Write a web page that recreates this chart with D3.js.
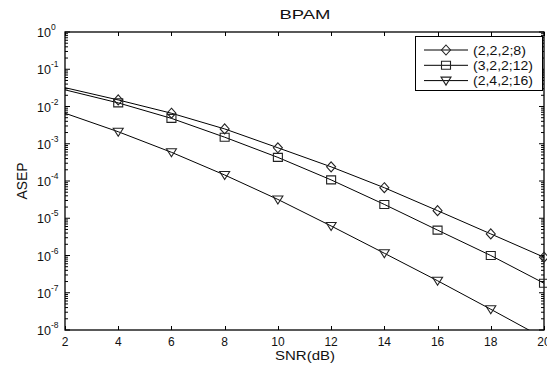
<!DOCTYPE html>
<html>
<head>
<meta charset="utf-8">
<script src="https://cdn.jsdelivr.net/npm/d3@7"></script>
<style>
  body { margin: 0; background: #fff; }
  svg { display: block; font-family: "Liberation Sans", Arial, sans-serif; }
</style>
</head>
<body>
<svg id="chart" width="547" height="365"></svg>
<script>
// SNR values (dB)
const snr = [2, 4, 6, 8, 10, 12, 14, 16, 18, 20];
// ASEP
const sepA = [3.2e-2, 1.5e-2, 6.6e-3, 2.5e-3, 7.8e-4, 2.4e-4, 6.6e-5, 1.6e-5, 3.8e-6, 9.0e-7];
const sepB = [2.8e-2, 1.25e-2, 4.8e-3, 1.5e-3, 4.3e-4, 1.07e-4, 2.35e-5, 4.8e-6, 1.0e-6, 1.8e-7];
const sepC = [6.6e-3, 2.1e-3, 5.9e-4, 1.45e-4, 3.2e-5, 6.2e-6, 1.15e-6, 2.1e-7, 3.6e-8, 6.0e-9];
const seriesNames = ["(2,2,2;8)", "(3,2,2;12)", "(2,4,2;16)"];
const markerTypes = ["diamond", "square", "triangle"];
const xTicks = [2, 4, 6, 8, 10, 12, 14, 16, 18, 20];
const yExps = [0, -1, -2, -3, -4, -5, -6, -7, -8];

const series = [sepA, sepB, sepC].map((v, i) => ({
  name: seriesNames[i], marker: markerTypes[i],
  values: snr.map((s, j) => ({ x: s, y: v[j] }))
}));

const svg = d3.select("#chart");
const pLeft = 65, pRight = 544, pTop = 32, pBottom = 330;

const x = d3.scaleLinear().domain([2, 20]).range([pLeft, pRight]);
const y = d3.scaleLog().domain([1e-8, 1]).range([pBottom, pTop]);

svg.append("defs").append("clipPath").attr("id", "clip")
  .append("rect").attr("x", pLeft).attr("y", pTop)
  .attr("width", pRight - pLeft).attr("height", pBottom - pTop);

// stretched text helper (the picture's text is wider than normal glyphs)
function label(g, txt, px, py, size, width, anchor) {
  return g.append("text")
    .attr("x", px).attr("y", py)
    .attr("font-size", size)
    .attr("text-anchor", anchor || "start")
    .attr("textLength", width)
    .attr("lengthAdjust", "spacingAndGlyphs")
    .attr("fill", "#111")
    .text(txt);
}

// axes box
svg.append("rect")
  .attr("x", pLeft).attr("y", pTop)
  .attr("width", pRight - pLeft).attr("height", pBottom - pTop)
  .attr("fill", "none").attr("stroke", "#000").attr("stroke-width", 1.3);

// x ticks, inward on bottom and top
const axis = svg.append("g").attr("stroke", "#000").attr("stroke-width", 1);
xTicks.forEach(t => {
  const px = Math.round(x(t)) + 0.5;
  axis.append("line").attr("x1", px).attr("x2", px).attr("y1", pBottom).attr("y2", pBottom - 4);
  axis.append("line").attr("x1", px).attr("x2", px).attr("y1", pTop).attr("y2", pTop + 4);
});

// y ticks: majors and minors, inward on left and right
yExps.forEach(e => {
  const py = y(Math.pow(10, e));
  axis.append("line").attr("x1", pLeft).attr("x2", pLeft + 5).attr("y1", py).attr("y2", py);
  axis.append("line").attr("x1", pRight).attr("x2", pRight - 5).attr("y1", py).attr("y2", py);
  if (e > -8) {
    for (let k = 2; k <= 9; k++) {
      const my = y(k * Math.pow(10, e - 1));
      axis.append("line").attr("x1", pLeft).attr("x2", pLeft + 3).attr("y1", my).attr("y2", my);
      axis.append("line").attr("x1", pRight).attr("x2", pRight - 3).attr("y1", my).attr("y2", my);
    }
  }
});

// x tick labels
xTicks.forEach(t => {
  svg.append("text")
    .attr("x", x(t)).attr("y", 346)
    .attr("text-anchor", "middle")
    .attr("font-size", 12)
    .attr("fill", "#111")
    .text(t);
});

// y tick labels as 10^e
yExps.forEach(e => {
  const t = svg.append("text")
    .attr("x", 37).attr("y", y(Math.pow(10, e)) + 5)
    .attr("font-size", 12.5)
    .attr("fill", "#111")
    .text("10");
  t.append("tspan").attr("dy", -7).attr("font-size", 8.5).text(e);
});

// title and axis labels
label(svg, "BPAM", 305, 19, 13, 51, "middle");
label(svg, "SNR(dB)", 305, 360, 13, 60, "middle");
const yl = svg.append("g").attr("transform", "translate(27,181) rotate(-90)");
label(yl, "ASEP", 0, 0, 14, 37, "middle");

// lines
const line = d3.line().x(d => x(d.x)).y(d => y(d.y));
const plot = svg.append("g").attr("clip-path", "url(#clip)");
series.forEach(s => {
  plot.append("path")
    .attr("d", line(s.values))
    .attr("fill", "none")
    .attr("stroke", "#000")
    .attr("stroke-width", 1);
});

// markers
function drawMarker(g, type, cx, cy) {
  let d;
  if (type === "diamond") d = `M${cx},${cy - 5}L${cx + 4.5},${cy}L${cx},${cy + 5}L${cx - 4.5},${cy}Z`;
  else if (type === "square") d = `M${cx - 4.5},${cy - 4}H${cx + 4.5}V${cy + 4}H${cx - 4.5}Z`;
  else d = `M${cx - 5},${cy - 3.5}H${cx + 5}L${cx},${cy + 4.5}Z`;
  g.append("path").attr("d", d)
    .attr("fill", "none").attr("stroke", "#222").attr("stroke-width", 1.1);
}
const marks = svg.append("g");
series.forEach(s => {
  s.values.filter(d => d.x > 2 && d.y >= 1e-8).forEach(d => drawMarker(marks, s.marker, x(d.x), y(d.y)));
});

// legend
const lg = svg.append("g");
lg.append("rect").attr("x", 415.5).attr("y", 36.5).attr("width", 127).attr("height", 54)
  .attr("fill", "#fff").attr("stroke", "#000").attr("stroke-width", 1);
const legendW = [53, 60, 60];
series.forEach((s, i) => {
  const ly = 50 + i * 15.3;
  lg.append("line").attr("x1", 424).attr("x2", 468).attr("y1", ly).attr("y2", ly)
    .attr("stroke", "#000").attr("stroke-width", 1);
  drawMarker(lg, s.marker, 446, ly);
  label(lg, s.name, 473, ly + 4.5, 12, legendW[i], "start");
});
</script>
</body>
</html>
